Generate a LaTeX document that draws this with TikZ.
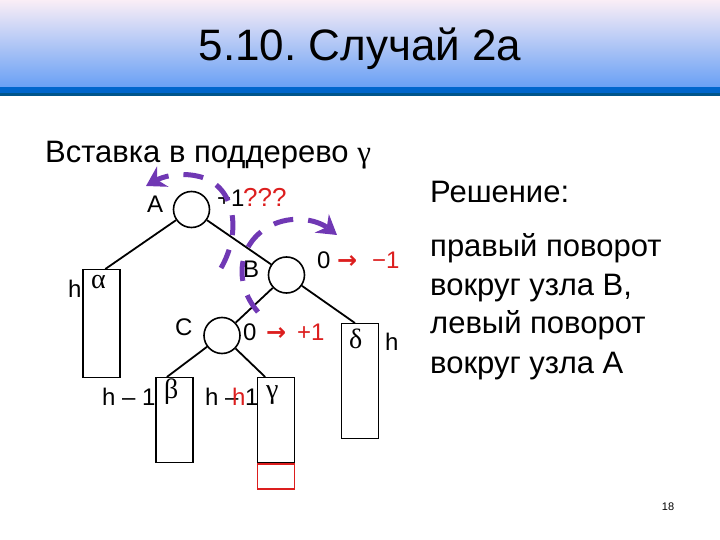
\documentclass[tikz,border=0pt]{standalone}
\usepackage{fontspec}
\setmainfont{Liberation Sans}
\newfontfamily\greekfont{Liberation Serif}
\newfontfamily\arrowfont{DejaVu Sans}
\usetikzlibrary{arrows.meta}
\frenchspacing
\definecolor{slidered}{RGB}{220,30,30}
\definecolor{turnviolet}{RGB}{112,56,180}
\definecolor{bandtop}{RGB}{250,238,246}
\definecolor{bandbottom}{RGB}{105,160,245}
\definecolor{bandline}{RGB}{0,102,204}
\definecolor{banddark}{RGB}{0,85,140}

\begin{document}
\begin{tikzpicture}[x=1pt, y=-1pt,
    vertex/.style={circle, draw, line width=1.6pt, minimum size=36pt, inner sep=0pt},
    subtree/.style={draw, line width=1.4pt, minimum width=37pt, anchor=north, inner sep=0pt},
    edge/.style={line width=1.8pt},
    lbl/.style={font=\fontsize{24}{28}\selectfont, anchor=base west, inner sep=0pt},
    greek/.style={font=\fontsize{28}{32}\selectfont\greekfont, anchor=base west, inner sep=0pt},
    arrowsign/.style={font=\fontsize{24}{28}\selectfont\arrowfont\bfseries, text=slidered,
        anchor=base west, inner sep=0pt},
    body/.style={font=\fontsize{31}{36}\selectfont, anchor=base west, inner sep=0pt},
    turn/.style={turnviolet, line width=5pt, dash pattern=on 20pt off 15pt,
        -{Stealth[length=19pt, width=23pt]}}
]
\useasboundingbox (0,0) rectangle (720,540);

% Title band
\shade[top color=bandtop, bottom color=bandbottom] (0,0) rectangle (720,87);
\fill[bandline] (0,87) rectangle (720,93);
\fill[banddark] (0,93) rectangle (720,96);
\node[font=\fontsize{44}{50}\selectfont, anchor=base, inner sep=0pt] (title) at (360,61) {5.10. Случай 2а};

% Heading
\node[body] (task) at (45,163) {Вставка в поддерево {\greekfont γ}};

% Tree
\node[vertex] (A) at (191.5,209.5) {};
\node[vertex] (B) at (286.5,275) {};
\node[vertex] (C) at (222,335.5) {};

\node[subtree, minimum height=108pt] (alpha) at (101.5,269) {};
\node[subtree, minimum height=85pt] (beta) at (174.5,377) {};
\node[subtree, minimum height=85pt] (gamma) at (276,377) {};
\node[subtree, minimum height=25pt, draw=slidered, anchor=north] (grow) at (gamma.south) {};
\node[subtree, minimum height=115pt] (delta) at (360,323) {};

\draw[edge] (A) -- (alpha.86);
\draw[edge] (A) -- (B);
\draw[edge] (B) -- (C);
\draw[edge] (B) -- (delta.95);
\draw[edge] (C) -- (beta.100);
\draw[edge] (C) -- (gamma.104);

% Node labels
\node[lbl] (labA) at (147,212) {A};
\node[lbl] (balA) at (217,207) {+1};
\node[lbl, text=slidered, font=\fontsize{26}{30}\selectfont] (askA) at (243,207) {???};
\node[lbl] (labB) at (243,277) {B};
\node[lbl] (balB) at (317,268) {0};
\node[arrowsign] (arrB) at (337,268) {→};
\node[lbl, text=slidered] (newB) at (372,268) {−1};
\node[lbl] (labC) at (175,335) {C};
\node[lbl] (balC) at (243,340) {0};
\node[arrowsign] (arrC) at (266,340) {→};
\node[lbl, text=slidered] (newC) at (297,340) {+1};

% Subtree labels
\node[lbl] (hA) at (68,297) {h};
\node[greek] (gA) at (91,288) {α};
\node[lbl] (hB) at (102,405) {h – 1};
\node[greek] (gB) at (164,398) {β};
\node[lbl] (hG) at (205,405) {h –};
\node[lbl] (oneG) at (245,405) {1};
\node[lbl, text=slidered] (redG) at (232,405) {h};
\node[greek] (gG) at (266,398) {γ};
\node[greek] (gD) at (349,348) {δ};
\node[lbl] (hD) at (385,350) {h};

% Rotations
\draw[turn] (221,268) .. controls (242,232) and (236,184) .. (197,176)
    .. controls (178,172) and (162,177) .. (146,186);
\draw[turn] (258,312) .. controls (232,282) and (238,240) .. (274,224)
    .. controls (298,214) and (320,222) .. (337,235);

% Solution
\node[body] (sol1) at (430,203) {Решение:};
\node[body] (sol2) at (430,256) {правый поворот};
\node[body] (sol3) at (430,295) {вокруг узла B,};
\node[body] (sol4) at (430,333) {левый поворот};
\node[body] (sol5) at (430,373) {вокруг узла A};

% Page number
\node[font=\fontsize{11}{13}\selectfont, anchor=base, inner sep=0pt] (page) at (668,510) {18};

\end{tikzpicture}
\end{document}
